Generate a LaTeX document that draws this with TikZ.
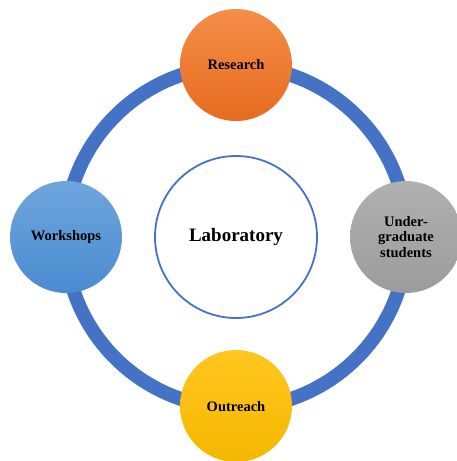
\documentclass[tikz,border=0pt]{standalone}
\usepackage{fontspec}
\setmainfont{Liberation Serif}
\definecolor{ringblue}{HTML}{4472C4}
\definecolor{orT}{HTML}{F58D48}
\definecolor{orB}{HTML}{E66C1F}
\definecolor{gyT}{HTML}{B0B0B0}
\definecolor{gyB}{HTML}{9C9C9C}
\definecolor{blT}{HTML}{6EA6DC}
\definecolor{blB}{HTML}{4A8BD0}
\definecolor{yeT}{HTML}{FFC61F}
\definecolor{yeB}{HTML}{F5B800}
\tikzset{
  sat/.style={circle, minimum size=112pt, inner sep=0pt, align=center,
    font=\fontsize{14.5}{15.5}\selectfont\bfseries, text=black},
}
\begin{document}
\begin{tikzpicture}[x=1pt,y=-1pt]
\useasboundingbox (0,0) rectangle (457,461);
\node[circle, minimum size=342pt, draw=ringblue, line width=14pt] (ring) at (236,237) {};
\node[circle, minimum size=162pt, draw=ringblue, line width=1.8pt, fill=white,
  font=\fontsize{19}{21}\selectfont\bfseries] (lab) at (236,237) {Laboratory};
\node[sat, top color=orT, bottom color=orB] (res) at (236,65) {Research};
\node[sat, top color=gyT, bottom color=gyB] (ug) at (406,237) {Under-\\graduate\\students};
\node[sat, top color=blT, bottom color=blB] (ws) at (66,237) {Workshops};
\node[sat, top color=yeT, bottom color=yeB, text depth=0pt] (out) at (236,406) {Outreach};
\end{tikzpicture}
\end{document}
